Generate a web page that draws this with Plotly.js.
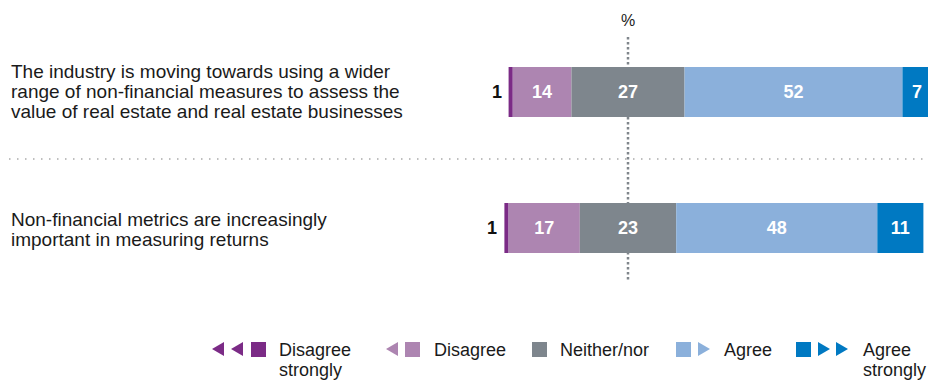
<!DOCTYPE html>
<html>
<head>
<meta charset="utf-8">
<script src="https://cdn.plot.ly/plotly-3.0.1.min.js"></script>
<style>
  html, body { margin: 0; padding: 0; background: #fff; }
  #chart { width: 928px; height: 381px; }
</style>
</head>
<body>
<div id="chart"></div>
<script>
// ---- data ----
const statements = [
  "The industry is moving towards using a wider range of non-financial measures to assess the value of real estate and real estate businesses",
  "Non-financial metrics are increasingly important in measuring returns"
];
const statementLines = [
  ["The industry is moving towards using a wider", "range of non-financial measures to assess the", "value of real estate and real estate businesses"],
  ["Non-financial metrics are increasingly", "important in measuring returns"]
];
const categories = ["Disagree strongly", "Disagree", "Neither/nor", "Agree", "Agree strongly"];
const disagreeStrongly = [1, 1];
const disagree = [14, 17];
const neither = [27, 23];
const agree = [52, 48];
const agreeStrongly = [7, 11];
const unitLabel = "%";

// ---- styles ----
const colors = ["#7B2B86", "#AD85B1", "#7E868D", "#8BB0DB", "#0079C2"];
const W = 928, H = 381;
const FONT = "Liberation Sans, Arial, Helvetica, sans-serif";
const NUMFONT = "Liberation Sans Narrow, Arial Narrow, Liberation Sans, Arial, sans-serif";

// bases: diverging around the middle of "Neither/nor"
const baseDS = statements.map((_, i) => -(neither[i] / 2 + disagree[i] + disagreeStrongly[i]));
const baseD = statements.map((_, i) => -(neither[i] / 2 + disagree[i]));
const baseN = statements.map((_, i) => -(neither[i] / 2));
const baseA = statements.map((_, i) => neither[i] / 2);
const baseAS = statements.map((_, i) => neither[i] / 2 + agree[i]);

const series = [disagreeStrongly, disagree, neither, agree, agreeStrongly];
const bases = [baseDS, baseD, baseN, baseA, baseAS];

const traces = series.map((vals, k) => ({
  type: "bar",
  orientation: "h",
  name: categories[k],
  y: statements,
  x: vals,
  base: bases[k],
  width: 0.368,
  marker: { color: colors[k], line: { width: 0 } },
  text: vals.map(String),
  textposition: k === 0 ? "none" : "inside",
  insidetextanchor: "middle",
  textangle: 0,
  constraintext: "none",
  textfont: { family: NUMFONT, size: 18, color: "#ffffff", weight: "bold" },
  hoverinfo: "skip"
}));

// pixel helpers (margins are zero so paper == full page)
const px = x => x / W;
const py = y => 1 - y / H;

const annotations = [];
// statement labels
const lineShifts = [[20, 0, -20], [8, -12]];
statementLines.forEach((lines, i) => {
  lines.forEach((ln, j) => {
    annotations.push({
      xref: "paper", yref: "y", x: px(9), y: statements[i],
      xanchor: "left", yanchor: "middle", yshift: lineShifts[i][j] + 1,
      text: ln, showarrow: false,
      font: { family: FONT, size: 19, color: "#1a1a1a" }
    });
  });
});
// outside labels for "Disagree strongly"
statements.forEach((s, i) => {
  annotations.push({
    xref: "x", yref: "y", x: baseDS[i], y: s,
    xanchor: "right", yanchor: "middle", xshift: -5, yshift: 0,
    text: String(disagreeStrongly[i]), showarrow: false,
    font: { family: NUMFONT, size: 18, color: "#111", weight: "bold" }
  });
});
// % label
annotations.push({
  xref: "x", yref: "paper", x: 0, y: py(20), xanchor: "center", yanchor: "middle",
  text: unitLabel, showarrow: false, font: { family: FONT, size: 16, color: "#222" }
});

const shapes = [];
// separator
shapes.push({
  type: "line", xref: "paper", yref: "paper", x0: px(9), x1: 1, y0: py(159), y1: py(159),
  line: { color: "#aaaaaa", width: 1.5, dash: "1.5px,6.5px" }, layer: "below"
});
// center dotted line
shapes.push({
  type: "line", xref: "x", yref: "paper", x0: 0, x1: 0, y0: py(37), y1: py(281),
  line: { color: "#80868C", width: 2.5, dash: "2.5px,2.5px" }, layer: "below"
});

// legend glyphs
function rect(x0, color) {
  shapes.push({ type: "rect", xref: "paper", yref: "paper", x0: px(x0), x1: px(x0 + 15),
    y0: py(357), y1: py(342), fillcolor: color, line: { width: 0 } });
}
function triLeft(x0, color) {
  const p = `M ${px(x0)} ${py(349)} L ${px(x0 + 12)} ${py(342)} L ${px(x0 + 12)} ${py(356)} Z`;
  shapes.push({ type: "path", xref: "paper", yref: "paper", path: p, fillcolor: color, line: { width: 0 } });
}
function triRight(x0, color) {
  const p = `M ${px(x0)} ${py(342)} L ${px(x0 + 12)} ${py(349)} L ${px(x0)} ${py(356)} Z`;
  shapes.push({ type: "path", xref: "paper", yref: "paper", path: p, fillcolor: color, line: { width: 0 } });
}
function legendText(x, y, t) {
  annotations.push({ xref: "paper", yref: "paper", x: px(x), y: py(y), xanchor: "left", yanchor: "middle",
    text: t, showarrow: false, font: { family: FONT, size: 18, color: "#1a1a1a" } });
}
// Disagree strongly
triLeft(212, colors[0]); triLeft(231, colors[0]); rect(251, colors[0]);
legendText(277, 350, categories[0].split(" ")[0]); legendText(277, 370, categories[0].split(" ")[1]);
// Disagree
triLeft(386, colors[1]); rect(405, colors[1]);
legendText(432, 350, categories[1]);
// Neither/nor
rect(532, colors[2]);
legendText(558, 350, categories[2]);
// Agree
rect(676, colors[3]); triRight(698, colors[3]);
legendText(722, 350, categories[3]);
// Agree strongly
rect(796, colors[4]); triRight(818, colors[4]); triRight(836, colors[4]);
legendText(861, 350, categories[4].split(" ")[0]); legendText(861, 370, categories[4].split(" ")[1]);

const pxPerUnit = 4.19;
const layout = {
  width: W, height: H,
  margin: { l: 0, r: 0, t: 0, b: 0, pad: 0 },
  paper_bgcolor: "#ffffff", plot_bgcolor: "#ffffff",
  barmode: "overlay",
  showlegend: false,
  xaxis: { visible: false, range: [-628 / pxPerUnit, (W - 628) / pxPerUnit], fixedrange: true },
  yaxis: { visible: false, type: "category", range: [(H - 92) / 136, -92 / 136], fixedrange: true },
  annotations: annotations,
  shapes: shapes,
  font: { family: FONT }
};

Plotly.newPlot("chart", traces, layout, { displayModeBar: false, staticPlot: true });
</script>
</body>
</html>
